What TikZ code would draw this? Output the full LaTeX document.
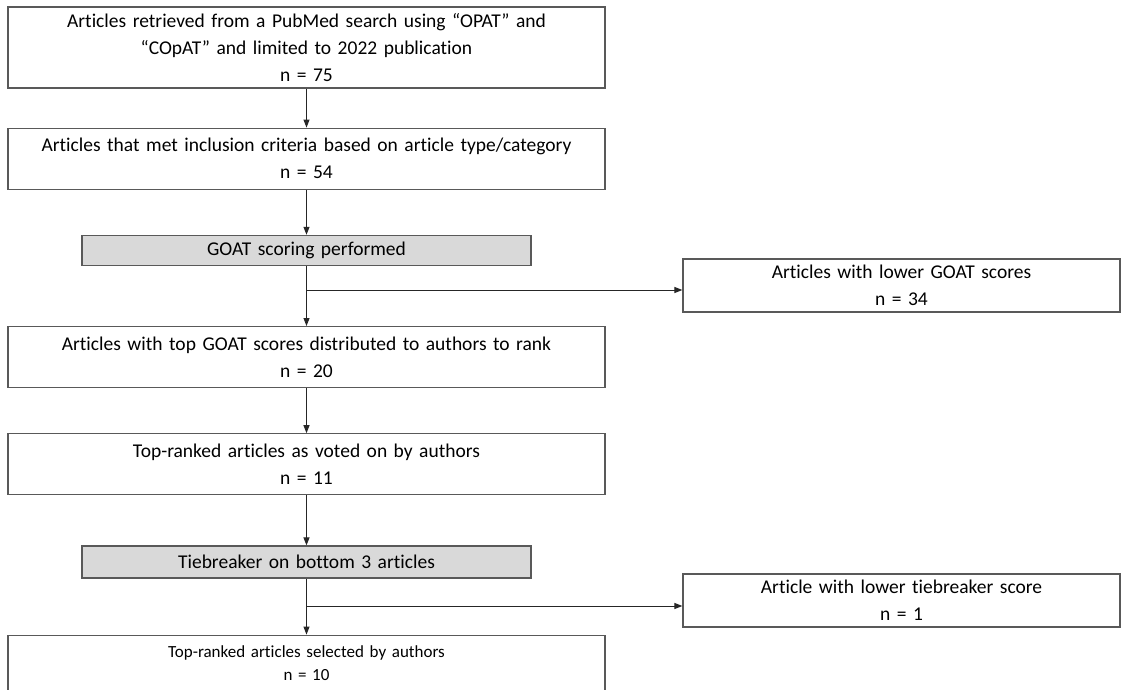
\documentclass[tikz,border=0pt]{standalone}
\usepackage{fontspec}
\setmainfont{Carlito}[Ligatures=NoCommon]
\usetikzlibrary{positioning,arrows.meta}
\definecolor{stagefill}{HTML}{D9D9D9}
\definecolor{edgegray}{HTML}{595959}

\begin{document}
\begin{tikzpicture}[x=1pt, y=-1pt, >={Stealth[length=8pt,width=6pt,inset=0pt]},
    block/.style={rectangle, draw=edgegray, line width=1.2pt, text width=597pt, inner sep=0pt, align=center, minimum height=61pt, font=\fontsize{19.5}{27}\selectfont},
    stage/.style={block, fill=stagefill, text width=449pt, minimum height=30pt},
    side/.style={block, text width=437pt, minimum height=53pt},
    line/.style={draw=black!85, ->, line width=1pt}]

    \clip (0,0) rectangle (1122,690);

    \node [block, minimum height=81pt] (found) at (306.5,47.5) {Articles retrieved from a PubMed search using “OPAT” and\\“COpAT” and limited to 2022 publication\\n = 75};
    \node [block, below=39pt of found] (eligible) {Articles that met inclusion criteria based on article type/category\\n = 54};
    \node [stage, below=45pt of eligible] (goat) {GOAT scoring performed};
    \node [block, below=60pt of goat] (ranked) {Articles with top GOAT scores distributed to authors to rank\\n = 20};
    \node [block, below=45pt of ranked] (voted) {Top-ranked articles as voted on by authors\\n = 11};
    \node [stage, below=50pt of voted, minimum height=32pt] (tie) {Tiebreaker on bottom 3 articles};
    \node [block, below=56pt of tie, minimum height=74pt, text depth=41pt, font=\fontsize{17}{23}\selectfont] (final) {Top-ranked articles selected by authors\\n = 10};

    \node [side] (lowgoat) at (901.5,285.5) {Articles with lower GOAT scores\\n = 34};
    \node [side] (lowtie) at (901.5,600.5) {Article with lower tiebreaker score\\n = 1};

    \path [line] (found) -- (eligible);
    \path [line] (eligible) -- (goat);
    \path [line] (goat) -- (ranked);
    \path [line] (ranked) -- (voted);
    \path [line] (voted) -- (tie);
    \path [line] (tie) -- (final);

    % side branches
    \coordinate (split1) at (306.5,290);
    \coordinate (split2) at (306.5,606);
    \path [line] (split1) -- (split1 -| lowgoat.west);
    \path [line] (split2) -- (split2 -| lowtie.west);
\end{tikzpicture}
\end{document}
